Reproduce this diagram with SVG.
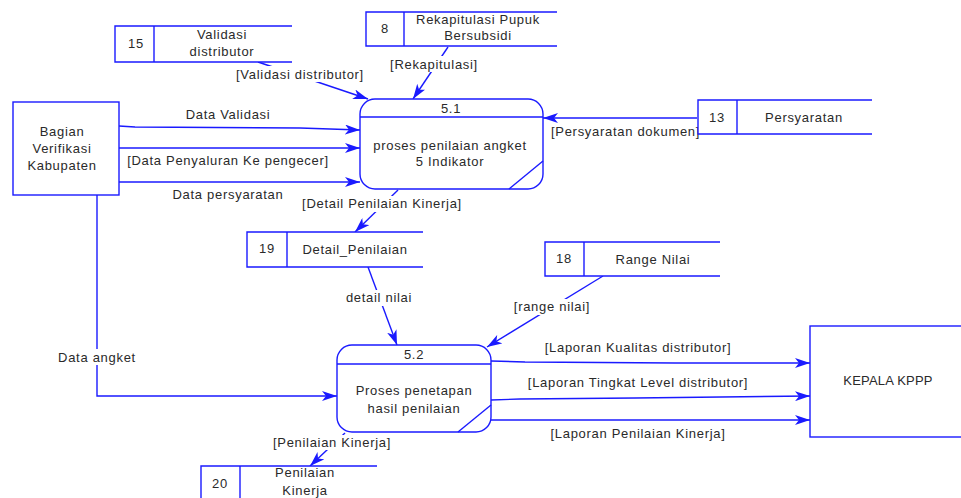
<svg xmlns="http://www.w3.org/2000/svg" width="961" height="498" viewBox="0 0 961 498">
  <style>
    .ln { fill: none; stroke: #1a1aff; stroke-width: 1.4; }
    .box { fill: #ffffff; stroke: #1a1aff; stroke-width: 1.4; }
    .t { font-family: "Liberation Sans", Arial, sans-serif; font-size: 13px; fill: #2a2a2a; text-anchor: middle; letter-spacing: 0.7px; }
    .arr { fill: none; stroke: #1a1aff; stroke-width: 1.4; marker-end: url(#head); }
    .lbl { fill: #ffffff; }
  </style>
  <defs>
    <marker id="head" viewBox="0 0 16 10" refX="15" refY="5" markerWidth="16" markerHeight="10" markerUnits="userSpaceOnUse" orient="auto">
      <path d="M0,0 L15,5 L0,10 L4,5 Z" fill="#1a1aff"/>
    </marker>
  </defs>
  <rect width="961" height="498" fill="#ffffff"/>

  <!-- connectors -->
  <g id="connectors">
    <!-- entity to 5.1 -->
    <polyline class="arr" points="119,126 135,127 300,128 360,130"/>
    <line class="arr" x1="119" y1="148" x2="360" y2="148"/>
    <line class="arr" x1="119" y1="182" x2="360" y2="182"/>
    <!-- stores to 5.1 -->
    <line class="arr" x1="258" y1="62" x2="368" y2="99"/>
    <line class="arr" x1="448" y1="47" x2="413" y2="99"/>
    <line class="arr" x1="697" y1="118" x2="543" y2="118"/>
    <!-- 5.1 to Detail_Penilaian -->
    <line class="arr" x1="398" y1="190" x2="355" y2="232"/>
    <!-- stores to 5.2 -->
    <line class="arr" x1="368" y1="267" x2="397" y2="345"/>
    <line class="arr" x1="603" y1="276" x2="487" y2="347"/>
    <!-- entity to 5.2 -->
    <polyline class="arr" points="97,195 97,396 337,396"/>
    <!-- 5.2 to Penilaian Kinerja -->
    <line class="arr" x1="345" y1="433" x2="310" y2="466"/>
    <!-- 5.2 to KEPALA KPPP -->
    <polyline class="arr" points="491,361 525,362 675,363 810,363"/>
    <polyline class="arr" points="491,400 520,399 635,398 810,396"/>
    <line class="arr" x1="491" y1="420" x2="810" y2="420"/>

    <!-- flow labels -->
    <rect class="lbl" x="226" y="66" width="148" height="16"/>
    <text class="t" x="300" y="79">[Validasi distributor]</text>
    <rect class="lbl" x="388" y="56" width="92" height="16"/>
    <text class="t" x="434" y="69">[Rekapitulasi]</text>
    <text class="t" x="228" y="119">Data Validasi</text>
    <text class="t" x="228" y="165">[Data Penyaluran Ke pengecer]</text>
    <text class="t" x="228" y="199">Data persyaratan</text>
    <text class="t" x="551" y="136" style="text-anchor:start">[Persyaratan dokumen]</text>
    <rect class="lbl" x="292" y="196" width="180" height="16"/>
    <text class="t" x="382" y="208">[Detail Penilaian Kinerja]</text>
    <rect class="lbl" x="339" y="290" width="80" height="16"/>
    <text class="t" x="379" y="302">detail nilai</text>
    <rect class="lbl" x="507" y="299" width="90" height="16"/>
    <text class="t" x="552" y="311">[range nilai]</text>
    <rect class="lbl" x="53" y="349" width="88" height="16"/>
    <text class="t" x="97" y="362">Data angket</text>
    <text class="t" x="638" y="352">[Laporan Kualitas distributor]</text>
    <text class="t" x="638" y="387">[Laporan Tingkat Level distributor]</text>
    <text class="t" x="638" y="438">[Laporan Penilaian Kinerja]</text>
    <rect class="lbl" x="264" y="435" width="136" height="15"/>
    <text class="t" x="332" y="447">[Penilaian Kinerja]</text>
  </g>

  <!-- external entity: Bagian Verifikasi Kabupaten -->
  <g id="entity-bagian-verifikasi">
    <rect class="box" x="13" y="102" width="106" height="93"/>
    <text class="t" x="62" y="136">Bagian</text>
    <text class="t" x="62" y="153">Verifikasi</text>
    <text class="t" x="62" y="170">Kabupaten</text>
  </g>

  <!-- external entity: KEPALA KPPP -->
  <g id="entity-kepala-kppp">
    <rect class="box" x="810" y="326" width="170" height="111"/>
    <text class="t" x="888" y="385" style="letter-spacing:0.2px">KEPALA KPPP</text>
  </g>

  <!-- process 5.1 -->
  <g id="process-5-1">
    <rect class="box" x="360" y="99" width="183" height="90" rx="15" ry="15"/>
    <line class="ln" x1="360" y1="117" x2="543" y2="117"/>
    <line class="ln" x1="509" y1="189" x2="543" y2="161"/>
    <text class="t" x="451" y="113">5.1</text>
    <text class="t" x="450" y="150">proses penilaian angket</text>
    <text class="t" x="450" y="166">5 Indikator</text>
  </g>

  <!-- process 5.2 -->
  <g id="process-5-2">
    <rect class="box" x="337" y="345" width="154" height="87" rx="15" ry="15"/>
    <line class="ln" x1="337" y1="364" x2="491" y2="364"/>
    <line class="ln" x1="458" y1="432" x2="491" y2="405"/>
    <text class="t" x="414" y="359">5.2</text>
    <text class="t" x="414" y="395">Proses penetapan</text>
    <text class="t" x="414" y="413">hasil penilaian</text>
  </g>

  <!-- data store 15 -->
  <g id="store-15">
    <path class="box" d="M292,26 L115,26 L115,62 L292,62"/>
    <line class="ln" x1="154" y1="26" x2="154" y2="62"/>
    <text class="t" x="136" y="48">15</text>
    <text class="t" x="222" y="39">Validasi</text>
    <text class="t" x="222" y="56">distributor</text>
  </g>

  <!-- data store 8 -->
  <g id="store-8">
    <path class="box" d="M557,12 L366,12 L366,46 L557,46"/>
    <line class="ln" x1="404" y1="12" x2="404" y2="46"/>
    <text class="t" x="385" y="33">8</text>
    <text class="t" x="478" y="24">Rekapitulasi Pupuk</text>
    <text class="t" x="478" y="40">Bersubsidi</text>
  </g>

  <!-- data store 13 -->
  <g id="store-13">
    <path class="box" d="M872,100 L698,100 L698,134 L872,134"/>
    <line class="ln" x1="737" y1="100" x2="737" y2="134"/>
    <text class="t" x="717" y="122">13</text>
    <text class="t" x="804" y="122">Persyaratan</text>
  </g>

  <!-- data store 19 -->
  <g id="store-19">
    <path class="box" d="M423,232 L247,232 L247,267 L423,267"/>
    <line class="ln" x1="287" y1="232" x2="287" y2="267"/>
    <text class="t" x="267" y="253">19</text>
    <text class="t" x="355" y="254">Detail_Penilaian</text>
  </g>

  <!-- data store 18 -->
  <g id="store-18">
    <path class="box" d="M720,242 L545,242 L545,276 L720,276"/>
    <line class="ln" x1="584" y1="242" x2="584" y2="276"/>
    <text class="t" x="564" y="263">18</text>
    <text class="t" x="653" y="264">Range Nilai</text>
  </g>

  <!-- data store 20 -->
  <g id="store-20">
    <path class="box" d="M377,466 L201,466 L201,505 L377,505"/>
    <line class="ln" x1="240" y1="466" x2="240" y2="505"/>
    <text class="t" x="220" y="488">20</text>
    <text class="t" x="305" y="477">Penilaian</text>
    <text class="t" x="305" y="495">Kinerja</text>
  </g>
</svg>
